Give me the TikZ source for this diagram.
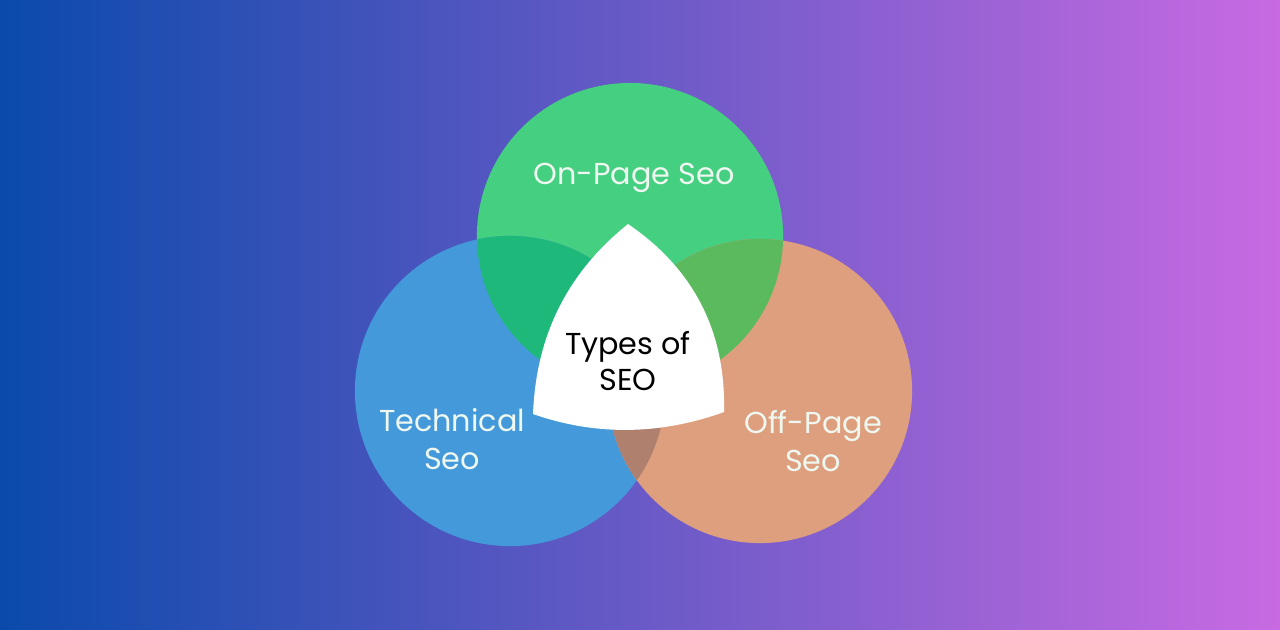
\documentclass[tikz,border=0pt]{standalone}
\usepackage{fontspec}
\setmainfont{Poppins}
\definecolor{bgL}{HTML}{0A4AAB}
\definecolor{bgR}{HTML}{C86AE2}
\definecolor{cGreen}{HTML}{45CF80}
\definecolor{cBlue}{HTML}{4399D9}
\definecolor{cOrange}{HTML}{DE9F7E}
\definecolor{cGB}{HTML}{1FB87B}
\definecolor{cGO}{HTML}{5CBA5E}
\definecolor{cBO}{HTML}{B0806E}
\definecolor{lbl}{HTML}{EEF7F0}
\tikzset{
  lab/.style={text=lbl, font=\fontsize{8.6}{10.6}\selectfont, align=center, inner sep=0pt},
  core/.style={text=black, font=\fontsize{8.6}{10.1}\selectfont, align=center, inner sep=0pt}
}
\begin{document}
\begin{tikzpicture}[x=0.01cm, y=-0.01cm]
\useasboundingbox (0,0) rectangle (1280,629);
\shade[left color=bgL, right color=bgR] (0,0) rectangle (1280,629);
% circles
\def\gC{(630,236) circle [radius=1.53cm]}
\def\bC{(510,391) circle [radius=1.55cm]}
\def\oC{(760,391) circle [radius=1.52cm]}
\fill[cGreen] \gC;
\fill[cBlue] \bC;
\fill[cOrange] \oC;
\begin{scope}
  \clip \gC;
  \fill[cGB] \bC;
  \fill[cGO] \oC;
\end{scope}
\begin{scope}
  \clip \bC;
  \fill[cBO] \oC;
\end{scope}
% centre shape
\coordinate (T) at (628,224);
\coordinate (L) at (533,414);
\coordinate (R) at (724,412);
\fill[white] (T) .. controls (567,273) and (536,336) .. (L)
  .. controls (596,436) and (660,435) .. (R)
  .. controls (726,332) and (694,269) .. cycle;
% labels
\node[lab] (onpage) at (634,178) {On-Page Seo};
\node[core] (types) at (628,361) {Types of\\SEO};
\node[lab] (tech) at (452,439) {Technical\\Seo};
\node[lab] (offpage) at (813,441) {Off-Page\\Seo};
\end{tikzpicture}
\end{document}
